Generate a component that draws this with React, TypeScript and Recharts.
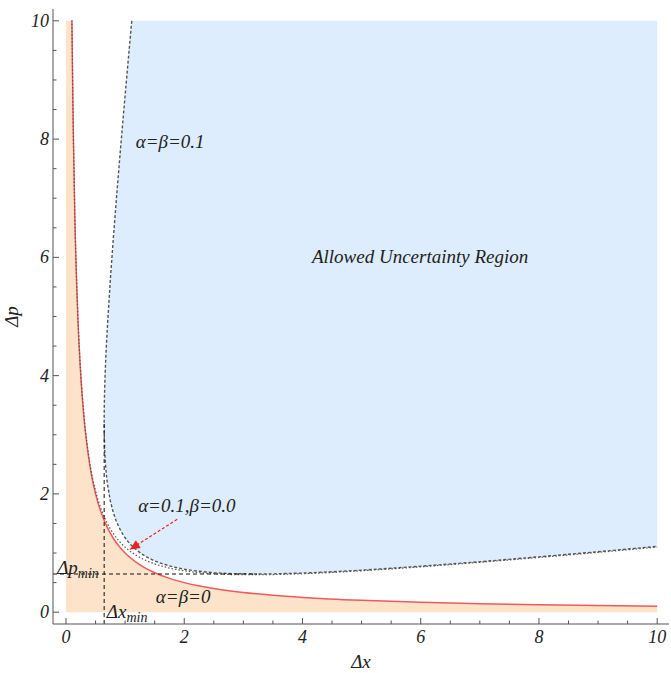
import React from "react";
import { ComposedChart, Area, Line, XAxis, YAxis, ReferenceLine, Scatter } from "recharts";

// red bound, alpha = beta = 0
const redX = [0.1, 0.12, 0.15, 0.2, 0.25, 0.3, 0.4, 0.5, 0.6, 0.7, 0.8, 0.9, 1, 1.25, 1.5, 1.75, 2, 2.5, 3, 3.5, 4, 5, 6, 7, 8, 9, 10];
const redY = [10, 8.333, 6.667, 5, 4, 3.333, 2.5, 2, 1.667, 1.429, 1.25, 1.111, 1, 0.8, 0.667, 0.571, 0.5, 0.4, 0.333, 0.286, 0.25, 0.2, 0.167, 0.143, 0.125, 0.111, 0.1];
// dotted bound, alpha = 0.1, beta = 0
const alphaY = [10.01, 8.345, 6.682, 5.02, 4.025, 3.363, 2.54, 2.05, 1.727, 1.499, 1.33, 1.201, 1.1, 0.925, 0.817, 0.746, 0.7, 0.65, 0.633, 0.636, 0.65, 0.7, 0.767, 0.843, 0.925, 1.011, 1.1];
// allowed region, alpha = beta = 0.1
const gupX = [0.6455, 0.647, 0.65, 0.655, 0.66, 0.67, 0.68, 0.7, 0.75, 0.8, 0.85, 0.9, 0.95, 1, 1.05, 1.1, 1.1125, 1.2, 1.3, 1.4, 1.5, 1.6, 1.8, 2, 2.2, 2.5, 2.8, 3.2275, 3.5, 4, 4.5, 5, 6, 7, 8, 9, 10];
const gupLo = [3.227, 3.019, 2.876, 2.73, 2.626, 2.47, 2.352, 2.173, 1.879, 1.685, 1.541, 1.428, 1.335, 1.258, 1.193, 1.137, 1.125, 1.044, 0.972, 0.914, 0.867, 0.828, 0.768, 0.726, 0.697, 0.668, 0.652, 0.6455, 0.648, 0.661, 0.683, 0.71, 0.777, 0.853, 0.936, 1.022, 1.113];
const gupHi = [3.227, 3.451, 3.624, 3.82, 3.974, 4.23, 4.448, 4.827, 5.621, 6.315, 6.959, 7.573, 8.165, 8.742, 9.307, 9.864, 10, 10, 10, 10, 10, 10, 10, 10, 10, 10, 10, 10, 10, 10, 10, 10, 10, 10, 10, 10, 10];
const upperCount = 17;

const dxMin = 0.6455;
const dpMin = 0.6455;
const touch = 3.2275;

const arrowFrom = { x: 1.88, y: 1.57 };
const arrowTo = { x: 1.08, y: 1.06 };

const notes = [
  { x: 1.18, y: 7.85, text: "α=β=0.1", sub: "" },
  { x: 4.16, y: 5.9, text: "Allowed Uncertainty Region", sub: "" },
  { x: 1.22, y: 1.69, text: "α=0.1,β=0.0", sub: "" },
  { x: 1.52, y: 0.15, text: "α=β=0", sub: "" },
  { x: -0.15, y: 0.64, text: "Δp", sub: "min" },
  { x: 0.69, y: -0.1, text: "Δx", sub: "min" },
];

const xTicks = [0, 0.5, 1, 1.5, 2, 2.5, 3, 3.5, 4, 4.5, 5, 5.5, 6, 6.5, 7, 7.5, 8, 8.5, 9, 9.5, 10];
const yTicks = xTicks;

const xDomain = [-0.22, 10.2];
const yDomain = [-0.2, 10.2];

const redData = redX.map((x, i) => ({ x, y: redY[i] }));
const fillData = [{ x: 0, y: 10 }, ...redData];
const alphaData = redX.map((x, i) => ({ x, y: alphaY[i] }));
const regionData = gupX.map((x, i) => ({ x, lo: gupLo[i], hi: gupHi[i] }));
const boundaryData = [
  ...gupX.slice(0, upperCount).map((x, i) => ({ x, y: gupHi[i] })).reverse(),
  ...gupX.map((x, i) => ({ x, y: gupLo[i] })),
];

const txt = { fontFamily: "Liberation Serif, Times New Roman, serif", fontStyle: "italic" as const };
const FRAME = "#555";

const isMajor = (v: number) => Math.abs(v % 2) < 1e-9;

const BottomTick = ({ x, y, payload }: any) => (
  <g>
    <line x1={x} x2={x} y1={y} y2={y - (isMajor(payload.value) ? 6 : 3.5)} stroke={FRAME} />
    {isMajor(payload.value) && (
      <text x={x} y={y + 19} textAnchor="middle" style={{ ...txt, fontSize: 18 }} fill="#222">
        {payload.value}
      </text>
    )}
  </g>
);
const TopTick = ({ x, y, payload }: any) => (
  <line x1={x} x2={x} y1={y} y2={y + (isMajor(payload.value) ? 6 : 3.5)} stroke={FRAME} />
);
const LeftTick = ({ x, y, payload }: any) => (
  <g>
    <line x1={x} x2={x + (isMajor(payload.value) ? 6 : 3.5)} y1={y} y2={y} stroke={FRAME} />
    {isMajor(payload.value) && (
      <text x={x - 4} y={y + 6} textAnchor="end" style={{ ...txt, fontSize: 18 }} fill="#222">
        {payload.value}
      </text>
    )}
  </g>
);
const RightTick = ({ x, y, payload }: any) => (
  <line x1={x} x2={x - (isMajor(payload.value) ? 6 : 3.5)} y1={y} y2={y} stroke={FRAME} />
);

const Note = ({ cx, cy, payload }: any) => (
  <text x={cx} y={cy} style={{ ...txt, fontSize: 19 }} fill="#222">
    {payload.text}
    {payload.sub && (
      <tspan style={{ fontSize: 14 }} dy={4}>
        {payload.sub}
      </tspan>
    )}
  </text>
);

const ArrowHead = ({ cx, cy }: any) => (
  <polygon points="0,0 -10,-4.5 -10,4.5" fill="#F02020" transform={`translate(${cx},${cy}) rotate(147.4)`} />
);

export default function App() {
  return (
    <div style={{ position: "absolute", left: 0, top: 0, background: "#fff" }}>
      <ComposedChart width={671} height={673} margin={{ top: 9, right: 2, bottom: 0, left: 0 }}>
        <XAxis
          dataKey="x"
          type="number"
          domain={xDomain}
          allowDataOverflow
          ticks={xTicks}
          interval={0}
          height={49}
          tickSize={0}
          tickMargin={0}
          tickLine={false}
          axisLine={{ stroke: FRAME }}
          tick={<BottomTick />}
          label={{
            content: (p: any) => (
              <text
                x={p.viewBox.x + p.viewBox.width / 2}
                y={p.viewBox.y + 44}
                textAnchor="middle"
                style={{ ...txt, fontSize: 19 }}
                fill="#222"
              >
                Δx
              </text>
            ),
          }}
        />
        <XAxis
          xAxisId="top"
          orientation="top"
          dataKey="x"
          type="number"
          domain={xDomain}
          allowDataOverflow
          ticks={xTicks}
          interval={0}
          height={0}
          tickSize={0}
          tickMargin={0}
          tickLine={false}
          axisLine={{ stroke: FRAME }}
          tick={<TopTick />}
        />
        <YAxis
          type="number"
          domain={yDomain}
          allowDataOverflow
          ticks={yTicks}
          interval={0}
          width={53}
          tickSize={0}
          tickMargin={0}
          tickLine={false}
          axisLine={{ stroke: FRAME }}
          tick={<LeftTick />}
          label={{
            content: (p: any) => {
              const cx = 18;
              const cy = p.viewBox.y + p.viewBox.height / 2;
              return (
                <text
                  x={cx}
                  y={cy}
                  transform={`rotate(-90, ${cx}, ${cy})`}
                  textAnchor="middle"
                  style={{ ...txt, fontSize: 19 }}
                  fill="#222"
                >
                  Δp
                </text>
              );
            },
          }}
        />
        <YAxis
          yAxisId="right"
          orientation="right"
          type="number"
          domain={yDomain}
          allowDataOverflow
          ticks={yTicks}
          interval={0}
          width={0}
          tickSize={0}
          tickMargin={0}
          tickLine={false}
          axisLine={{ stroke: FRAME }}
          tick={<RightTick />}
        />

        <Area
          data={fillData}
          dataKey="y"
          type="linear"
          baseValue={0}
          fill="#FDE3C9"
          fillOpacity={1}
          stroke="none"
          isAnimationActive={false}
          activeDot={false}
        />
        <Area
          data={regionData}
          dataKey={(d: any) => [d.lo, d.hi]}
          type="linear"
          fill="#DDEDFD"
          fillOpacity={1}
          stroke="none"
          isAnimationActive={false}
          activeDot={false}
        />
        <Line
          data={redData}
          dataKey="y"
          type="monotone"
          stroke="#F25A5A"
          strokeWidth={1.5}
          dot={false}
          activeDot={false}
          isAnimationActive={false}
        />
        <Line
          data={alphaData}
          dataKey="y"
          type="monotone"
          stroke="#555"
          strokeWidth={1.2}
          strokeDasharray="1.5 2"
          dot={false}
          activeDot={false}
          isAnimationActive={false}
        />
        <Line
          data={boundaryData}
          dataKey="y"
          type="linear"
          stroke="#555"
          strokeWidth={1.4}
          strokeDasharray="3 2"
          dot={false}
          activeDot={false}
          isAnimationActive={false}
        />
        <ReferenceLine
          segment={[{ x: xDomain[0], y: dpMin }, { x: touch, y: dpMin }]}
          stroke="#111"
          strokeDasharray="4 3"
        />
        <ReferenceLine
          segment={[{ x: dxMin, y: yDomain[0] }, { x: dxMin, y: touch }]}
          stroke="#111"
          strokeDasharray="4 3"
        />
        <ReferenceLine
          segment={[arrowFrom, arrowTo]}
          stroke="#F02020"
          strokeWidth={1.2}
          strokeDasharray="3 2"
        />
        <Scatter data={[arrowTo]} dataKey="y" shape={<ArrowHead />} isAnimationActive={false} />
        <Scatter data={notes} dataKey="y" shape={<Note />} isAnimationActive={false} />
      </ComposedChart>
    </div>
  );
}
